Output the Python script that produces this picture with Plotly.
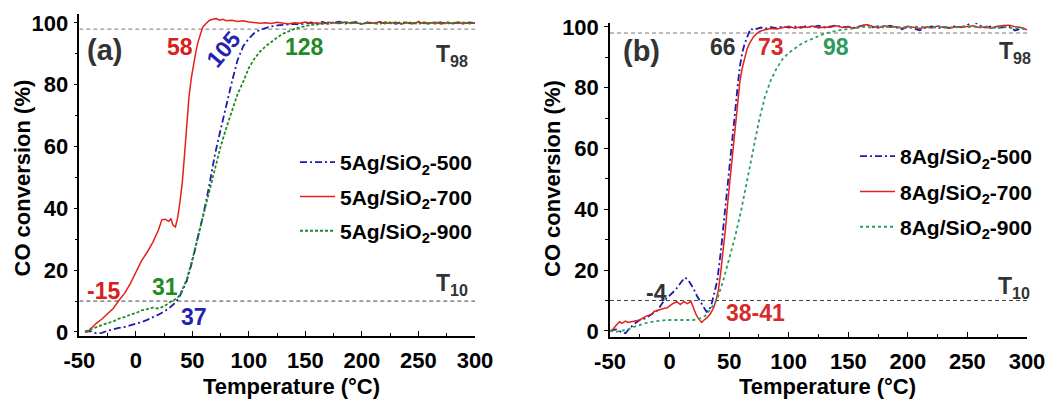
import plotly.graph_objects as go

# ---------------- data: panel (a) ----------------
T_a_500 = [-45,-40,-35,-30,-25,-20,-15,-10,-5,0,5,10,15,20,25,30,35,38,40,45,50,55,60,65,70,75,80,85,90,95,100,
           105,110,115,120,125,130,135,140,145,150,155,160,165,170,175,180,185,190,195,200,205,210,215,220,225,230,
           235,240,245,250,255,260,265,270,275,280,285,290,295,300]
V_a_500 = [0.0,0.3,-0.4,-0.3,0.4,0.9,1.3,1.6,2.1,2.6,3.2,3.9,4.7,5.6,6.6,7.9,9.5,11.0,12.5,16.5,23.0,30.5,38.5,47.5,57.5,65.5,73.5,81.0,88.0,92.5,95.0,
           96.8,97.8,98.4,98.9,99.2,99.4,99.6,99.7,99.5,99.9,100.2,99.8,100.3,99.7,100.1,100.4,99.8,100.0,100.3,99.6,100.1,99.8,100.4,99.9,100.2,99.7,
           100.3,100.0,99.8,100.4,100.1,99.7,100.2,99.9,100.3,99.8,100.1,99.7,100.2,99.9]

T_a_700 = [-45,-42,-40,-35,-30,-25,-20,-15,-10,-5,0,5,10,15,20,23,26,29,31,33,35,37,39,41,43,45,47,49,51,53,55,57,59,61,63,65,
           68,71,74,77,80,85,90,95,100,105,110,115,120,125,130,135,140,145,150,155,160,165,170,175,180,185,190,195,200,
           205,210,215,220,225,230,235,240,245,250,255,260,265,270,275,280,285,290,295,300]
V_a_700 = [0.0,0.2,1.0,2.8,4.2,5.8,7.6,10.2,12.5,15.6,19.5,23.0,25.8,29.0,33.0,36.3,36.5,35.8,36.6,34.5,34.0,37.0,42.0,48.0,57.0,68.0,76.0,82.0,86.5,90.5,93.8,96.5,98.5,99.4,100.2,100.8,
           101.2,101.4,100.9,101.2,100.7,100.9,100.5,100.7,100.3,100.2,99.9,100.1,99.8,100.2,100.0,99.7,100.1,99.9,100.3,99.8,100.1,99.7,100.2,100.0,99.8,100.3,99.9,100.1,99.7,
           100.2,99.9,100.3,99.8,100.0,100.2,99.7,100.1,99.9,100.3,99.8,100.0,100.2,99.7,100.1,99.9,100.3,99.8,100.0,99.9]

T_a_900 = T_a_500
V_a_900 = [0.2,0.9,1.6,2.2,2.9,3.4,4.3,4.8,5.6,6.1,7.0,7.4,7.9,7.6,8.3,9.6,10.6,11.5,12.8,17.0,23.5,31.0,38.5,45.5,52.5,60.0,66.0,71.5,77.0,81.0,85.5,
           88.5,90.8,92.5,94.0,95.3,96.5,97.3,98.0,98.6,99.0,99.4,99.5,99.9,99.7,100.2,99.8,100.3,99.9,100.1,99.7,100.2,100.0,99.6,100.3,99.9,100.1,
           99.8,100.3,99.9,99.7,100.2,100.0,99.8,100.3,99.7,100.1,99.9,100.2,99.8,100.0]

# ---------------- data: panel (b) ----------------
T_plateau = [105,110,115,120,125,130,135,140,145,150,155,160,165,170,175,180,185,190,195,200,
             205,210,215,220,225,230,235,240,245,250,255,260,265,270,275,280,285,290,295,300]

T_b_500 = [-50,-45,-40,-37,-35,-30,-25,-20,-15,-10,-5,0,5,10,13,16,20,23,26,29,31,33,35,37,40,43,46,49,52,55,57,59,61,63,66,68,70,73,77,80,85,90,95,100] + T_plateau
V_b_500 = [0.0,0.5,-0.5,-0.8,0.2,2.2,3.6,4.2,5.5,6.8,9.8,11.8,13.5,16.2,17.6,16.5,14.0,11.5,9.5,7.3,6.3,6.6,8.5,11.5,16.5,26.0,37.0,50.0,60.0,72.0,80.0,87.0,91.5,94.5,97.5,99.5,99.0,99.3,99.8,99.4,99.9,99.6,100.2,99.8,
           100.1,99.7,100.3,99.9,100.4,99.8,100.2,100.5,99.9,100.1,99.7,100.3,100.8,99.9,100.2,99.8,100.4,99.9,99.2,100.1,
           99.6,98.9,99.8,100.2,99.5,100.0,99.7,100.3,99.9,100.6,102.0,100.5,99.8,100.2,99.7,99.9,100.1,98.8,99.5,99.2]

T_b_700 = [-50,-48,-45,-42,-40,-37,-35,-30,-25,-20,-15,-13,-10,-5,-2,2,6,9,12,15,18,20,22,24,27,29,31,34,37,39,41,43,45,47,49,51,53,55,57,59,61,63,65,67,70,73,76,80,85,90,95,100] + T_plateau
V_b_700 = [0.0,0.3,1.8,3.0,2.5,3.2,2.8,3.3,3.6,4.8,5.5,6.4,6.8,7.4,7.6,8.8,9.6,8.7,9.6,9.0,9.7,7.5,5.6,4.2,2.8,3.6,4.2,5.5,7.6,10.0,13.5,19.5,26.0,34.0,43.0,51.0,58.0,66.0,74.0,82.0,86.5,90.0,92.7,94.5,96.5,97.8,98.6,99.1,99.5,99.3,99.8,100.2,
           99.6,100.1,99.8,100.3,99.7,100.0,99.9,100.4,99.8,100.1,99.6,100.3,100.8,100.2,99.7,100.4,99.9,100.1,99.6,100.2,
           99.8,99.5,100.0,99.7,100.3,99.8,99.6,100.1,99.9,100.2,100.4,99.8,100.0,99.6,100.2,100.5,100.6,100.1,99.8,99.1]

T_b_900 = [-50,-45,-40,-35,-30,-25,-20,-15,-10,-5,0,5,10,15,20,25,30,35,40,45,50,55,60,65,70,75,80,85,90,95,100] + T_plateau
V_b_900 = [0.0,-0.3,0.1,0.5,1.3,2.0,2.6,3.0,3.3,3.5,3.6,3.6,3.5,3.5,3.6,4.0,5.0,7.5,10.5,16.5,23.5,31.0,39.5,49.5,59.0,69.0,77.0,82.5,86.5,89.5,91.5,
           93.0,94.3,95.3,96.2,97.0,97.8,98.3,98.8,99.1,99.3,99.6,99.8,100.1,99.7,100.2,99.9,100.3,99.8,100.0,99.6,
           100.2,99.9,100.1,99.7,100.3,99.8,100.0,99.7,100.2,99.9,100.1,99.8,100.2,99.9,99.6,100.0,99.8,99.5,99.7,99.4]

for t, v in [(T_a_500, V_a_500), (T_a_700, V_a_700), (T_a_900, V_a_900),
             (T_b_500, V_b_500), (T_b_700, V_b_700), (T_b_900, V_b_900)]:
    assert len(t) == len(v), (len(t), len(v))

X_TICKS = [-50, 0, 50, 100, 150, 200, 250, 300]
X_TICKTEXT = ["-50", "0", "50", "100", "150", "200", "250", "300"]
X_MINOR = [-25, 25, 75, 125, 175, 225, 275]
Y_TICKS = [0, 20, 40, 60, 80, 100]
Y_MINOR = [10, 30, 50, 70, 90]
T98_LEVEL = 98
T10_LEVEL = 10

LABELS_A = ["5Ag/SiO<sub>2</sub>-500", "5Ag/SiO<sub>2</sub>-700", "5Ag/SiO<sub>2</sub>-900"]
LABELS_B = ["8Ag/SiO<sub>2</sub>-500", "8Ag/SiO<sub>2</sub>-700", "8Ag/SiO<sub>2</sub>-900"]

BLUE = "#1c1caa"
RED = "#e3211c"
GREEN_A = "#1f8c1f"
GREEN_B = "#2c9e5e"
FONT = "Liberation Sans, Arial, sans-serif"

W, H = 1059, 403

fig = go.Figure()

def add(t, v, name, color, dash, width, xa, ya, legend, grp):
    fig.add_trace(go.Scatter(x=t, y=v, mode="lines", name=name,
                             line=dict(color=color, dash=dash, width=width),
                             xaxis=xa, yaxis=ya, legend=legend, legendgroup=grp))

add(T_a_500, V_a_500, LABELS_A[0], BLUE, "7px,3px,2px,3px", 1.8, "x", "y", "legend", "a1")
add(T_a_700, V_a_700, LABELS_A[1], RED, "solid", 1.5, "x", "y", "legend", "a2")
add(T_a_900, V_a_900, LABELS_A[2], GREEN_A, "3px,2px", 1.8, "x", "y", "legend", "a3")
add(T_b_500, V_b_500, LABELS_B[0], BLUE, "7px,3px,2px,3px", 1.8, "x2", "y2", "legend2", "b1")
add(T_b_700, V_b_700, LABELS_B[1], RED, "solid", 1.5, "x2", "y2", "legend2", "b2")
add(T_b_900, V_b_900, LABELS_B[2], GREEN_B, "3px,3px", 1.8, "x2", "y2", "legend2", "b3")

tickfont = dict(family=FONT, size=22, color="black", weight="bold")

def xax(domain, anchor):
    return dict(domain=domain, anchor=anchor, range=[-50, 300], tickmode="array", automargin=False,
                tickvals=X_TICKS, ticktext=X_TICKTEXT, ticks="inside", ticklen=5, tickwidth=1.2,
                tickcolor="black", showline=True, linecolor="black", linewidth=1.5,
                showgrid=False, zeroline=False, tickfont=tickfont, ticklabelstandoff=4,
                minor=dict(tickvals=X_MINOR, ticks="inside", ticklen=3, tickwidth=1, tickcolor="black"))

def yax(domain, anchor, rng):
    return dict(domain=domain, anchor=anchor, range=rng, tickmode="array", tickvals=Y_TICKS,
                automargin=False,
                ticks="outside", ticklen=4, tickwidth=1.2, tickcolor="black", showline=True,
                linecolor="black", linewidth=1.5, showgrid=False, zeroline=False, tickfont=tickfont,
                ticklabelstandoff=1,
                minor=dict(tickvals=Y_MINOR, ticks="outside", ticklen=3, tickwidth=1, tickcolor="black"))

legfont = dict(family=FONT, size=21, color="black", weight="bold")

fig.update_layout(
    width=W, height=H, margin=dict(l=0, r=0, t=0, b=0, autoexpand=False),
    paper_bgcolor="white", plot_bgcolor="white",
    font=dict(family=FONT, weight="bold"),
    xaxis=xax([79.3 / W, 475 / W], "y"),
    yaxis=yax([1 - 336 / H, 1 - 14 / H], "x", [-1.3, 102.9]),
    xaxis2=xax([610 / W, 1027 / W], "y2"),
    yaxis2=yax([1 - 337 / H, 1 - 23 / H], "x2", [-2.0, 101.3]),
    legend=dict(x=295 / W, y=1 - 142 / H, xanchor="left", yanchor="top", bgcolor="rgba(0,0,0,0)",
                font=legfont, itemwidth=35, traceorder="grouped", tracegroupgap=4),
    legend2=dict(x=855 / W, y=1 - 136 / H, xanchor="left", yanchor="top", bgcolor="rgba(0,0,0,0)",
                 font=legfont, itemwidth=35, traceorder="grouped", tracegroupgap=5),
    showlegend=True,
)

# reference lines T98 / T10
for xa, ya in [("x", "y"), ("x2", "y2")]:
    for lvl, col in [(T98_LEVEL, "#777777"), (T10_LEVEL, "#444444")]:
        fig.add_shape(type="line", xref=xa, yref=ya, x0=-50, x1=300, y0=lvl, y1=lvl,
                      line=dict(color=col, width=1, dash="4px,3px"), layer="below")

def ann(text, x, y, color, size, xref, yref, angle=0):
    fig.add_annotation(text=text, x=x, y=y, xref=xref, yref=yref, showarrow=False,
                       textangle=angle, xanchor="center", yanchor="middle",
                       font=dict(family=FONT, size=size, color=color, weight="bold"))

DARK = "#333333"
# panel (a)
ann("(a)", -27.3, 91.3, DARK, 29, "x", "y")
ann("58", 39.1, 92.3, "#d8211d", 23, "x", "y")
ann("105", 77.6, 91.6, "#2323b0", 23, "x", "y", angle=-50)
ann("128", 149.5, 92.3, "#238a23", 23, "x", "y")
ann("T<sub>98</sub>", 279.7, 89.5, DARK, 23, "x", "y")
ann("T<sub>10</sub>", 279.7, 15.4, DARK, 23, "x", "y")
ann("-15", -28.5, 13.3, "#d8211d", 23, "x", "y")
ann("31", 26.0, 14.7, "#238a23", 23, "x", "y")
ann("37", 51.8, 4.7, "#2323b0", 23, "x", "y")
# panel (b)
ann("(b)", -23.4, 92.1, DARK, 29, "x2", "y2")
ann("66", 45.1, 93.3, DARK, 23, "x2", "y2")
ann("73", 85.4, 93.3, "#d42b2b", 23, "x2", "y2")
ann("98", 139.5, 93.3, "#2c9a5c", 23, "x2", "y2")
ann("T<sub>98</sub>", 290.0, 91.6, DARK, 23, "x2", "y2")
ann("T<sub>10</sub>", 289.1, 14.3, DARK, 23, "x2", "y2")
ann("-4", -10.8, 12.4, DARK, 23, "x2", "y2")
ann("38-41", 71.7, 5.8, "#d42b2b", 23, "x2", "y2")

# axis titles
def title(text, px, py, angle=0):
    fig.add_annotation(text=text, x=px / W, y=1 - py / H, xref="paper", yref="paper",
                       showarrow=False, textangle=angle, xanchor="center", yanchor="middle",
                       font=dict(family=FONT, size=22, color="black", weight="bold"))

title("CO conversion (%)", 22.5, 178, -90)
title("Temperature (°C)", 291, 386)
title("CO conversion (%)", 552.5, 178.5, -90)
title("Temperature (°C)", 827.5, 386)

fig.write_html("out.html", config={"displayModeBar": False},
               post_script="document.body.style.margin='0px';document.body.style.overflow='hidden';")
